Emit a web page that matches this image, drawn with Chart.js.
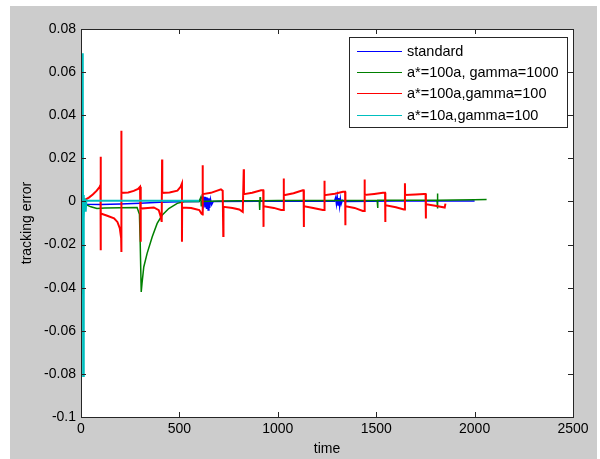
<!DOCTYPE html>
<html>
<head>
<meta charset="utf-8">
<script src="https://cdn.jsdelivr.net/npm/chart.js@4"></script>
<style>
  html, body { margin: 0; padding: 0; background: #fff; }
</style>
</head>
<body>
<canvas id="myChart" width="600" height="459"></canvas>
<script>
// series names (legend order)
const seriesNames = ['standard', 'a*=100a, gamma=1000', 'a*=100a,gamma=100', 'a*=10a,gamma=100'];

// axis ticks
const xTickValues = [0, 500, 1000, 1500, 2000, 2500];
const xTickLabels = ['0', '500', '1000', '1500', '2000', '2500'];
const yTickValues = [-0.1, -0.08, -0.06, -0.04, -0.02, 0, 0.02, 0.04, 0.06, 0.08];
const yTickLabels = ['-0.1', '-0.08', '-0.06', '-0.04', '-0.02', '0', '0.02', '0.04', '0.06', '0.08'];

// standard (blue)
const blueT = [0, 6, 9, 18, 30, 100, 200, 300, 400, 500, 600, 618, 622, 626, 630, 634, 638, 642, 646, 650, 654, 658, 664, 672,
  900, 1288, 1294, 1298, 1302, 1306, 1310, 1314, 1318, 1322, 1328, 1339, 1600, 1900, 2000];
const blueY = [0, 0.0045, 0.003, -0.0009, -0.0013, -0.0014, -0.0012, -0.0008, -0.0004, -0.0001, 0, 0.0025, -0.0012, 0.0022, -0.0028, 0.002, -0.0035, 0.0018, -0.004, 0.0015, -0.003, 0.001, -0.0015, 0,
  0.0001, 0.0001, 0.0018, -0.0012, 0.002, -0.0017, 0.0016, -0.0022, 0.0012, -0.0012, 0.0005, 0, 0.0002, 0.0002, 0.0002];

// a*=100a, gamma=1000 (green)
const greenT = [0, 4, 5, 6, 8, 14, 20, 31, 50, 81, 120, 200, 285, 297, 301, 306, 310, 319, 336, 362, 387, 412, 446, 489, 531,
  600, 609, 611, 613, 700, 800, 906, 908, 910, 912, 1000, 1200, 1505, 1507, 1509, 1700, 1809, 1810, 1812, 1814, 1900, 2000, 2061];
const greenY = [0, 0.068, -0.043, 0.0107, 0, -0.0005, -0.0012, -0.0017, -0.0025, -0.0033, -0.003, -0.0029, -0.0028, -0.006, -0.02, -0.042, -0.038, -0.0304, -0.0241, -0.0164, -0.0102, -0.0064, -0.0033, -0.0009, 0.0001,
  0, 0.002, -0.002, 0, 0.0002, 0.0003, 0.0003, -0.004, 0.002, 0.0003, 0.0004, 0.0004, 0.0004, -0.003, 0.0005, 0.0005, 0.0005, 0.0037, -0.0033, 0.0006, 0.0007, 0.0008, 0.0009];

// a*=100a,gamma=100 (red)
const redT = [0, 15, 40, 60, 80, 95, 99,
  100, 100, 101, 130, 168, 185, 197, 204,
  205, 205, 206, 240, 268, 290, 300,
  303, 304, 340, 370, 395, 405, 410,
  412, 413, 450, 490, 506,
  513, 513, 514, 560, 601, 612,
  618, 618, 619, 660, 711, 720,
  723, 724, 770, 804, 822,
  827, 828, 870, 915, 926,
  927, 928, 980, 1017, 1029,
  1030, 1031, 1080, 1127, 1131,
  1132, 1133, 1180, 1229, 1236,
  1237, 1238, 1290, 1331, 1342,
  1343, 1344, 1390, 1432, 1440,
  1441, 1442, 1490, 1534, 1545,
  1546, 1547, 1600, 1641, 1645,
  1646, 1647, 1700, 1743, 1751,
  1752, 1753, 1800, 1848, 1852];
const redY = [0, 0.0005, 0.0018, 0.0032, 0.005, 0.0068, 0.0076,
  0.0207, -0.0226, -0.0056, -0.0065, -0.0078, -0.0095, -0.0124, -0.017,
  -0.0235, 0.0328, 0.004, 0.0042, 0.0049, 0.0058, 0.0068,
  -0.0187, -0.0033, -0.003, -0.0028, -0.004, -0.0071, -0.0095,
  0.0195, 0.004, 0.0042, 0.005, 0.0068,
  0.0084, -0.0187, -0.0028, -0.003, -0.004, -0.0056,
  -0.006, 0.0168, 0.0034, 0.004, 0.0056, 0.005,
  -0.016, -0.0025, -0.003, -0.0037, -0.0048,
  0.0149, 0.0034, 0.004, 0.0052, 0.0052,
  -0.0118, -0.0022, -0.003, -0.004, -0.004,
  0.0107, 0.0029, 0.0038, 0.0052, 0.0052,
  -0.0118, -0.0022, -0.003, -0.004, -0.004,
  0.0096, 0.0029, 0.0036, 0.0045, 0.0045,
  -0.011, -0.0022, -0.003, -0.0044, -0.0044,
  0.0102, 0.003, 0.0035, 0.004, 0.004,
  -0.0095, -0.0017, -0.0027, -0.0037, -0.0037,
  0.0084, 0.003, 0.0032, 0.0034, 0.0034,
  -0.0079, -0.0013, -0.002, -0.0028, -0.001];

// a*=10a,gamma=100 (cyan)
const cyanT = [0, 9, 11, 13, 15, 17, 19, 22, 24, 27, 35, 100, 300, 600];
const cyanY = [0, 0.0687, -0.081, 0.003, -0.0078, 0.0015, -0.002, 0.001, -0.0048, 0.0005, 0.0003, 0.0003, 0.0003, 0.0003];

function pts(ts, ys) {
  return ts.map((t, i) => ({ x: t, y: ys[i] }));
}

Chart.defaults.font.family = '"Liberation Sans", Arial, sans-serif';
Chart.defaults.font.size = 14;
Chart.defaults.color = '#000';

// gray figure background + white axes
const bgPlugin = {
  id: 'bg',
  beforeDraw(chart) {
    const ctx = chart.ctx, a = chart.chartArea;
    ctx.save();
    ctx.fillStyle = '#fff';
    ctx.fillRect(0, 0, chart.width, chart.height);
    ctx.fillStyle = '#cccccc';
    ctx.fillRect(10, 6, 587, 453);
    ctx.fillStyle = '#fff';
    ctx.fillRect(a.left, a.top, a.right - a.left, a.bottom - a.top);
    ctx.restore();
  }
};

// box, inward ticks and legend like matlab
const boxPlugin = {
  id: 'box',
  afterDraw(chart) {
    const ctx = chart.ctx, a = chart.chartArea;
    const xs = chart.scales.x, ys = chart.scales.y;
    ctx.save();
    ctx.strokeStyle = '#262626';
    ctx.lineWidth = 1;
    ctx.beginPath();
    xTickValues.forEach(v => {
      const px = Math.round(xs.getPixelForValue(v)) + 0.5;
      ctx.moveTo(px, a.bottom); ctx.lineTo(px, a.bottom - 5);
      ctx.moveTo(px, a.top); ctx.lineTo(px, a.top + 5);
    });
    yTickValues.forEach(v => {
      const py = Math.round(ys.getPixelForValue(v)) + 0.5;
      ctx.moveTo(a.left, py); ctx.lineTo(a.left + 5, py);
      ctx.moveTo(a.right, py); ctx.lineTo(a.right - 5, py);
    });
    ctx.stroke();
    ctx.strokeRect(Math.round(a.left) + 0.5, Math.round(a.top) + 0.5, Math.round(a.right - a.left), Math.round(a.bottom - a.top));

    // legend
    const lx = a.right - 224, ly = a.top + 8, lw = 218, lh = 90;
    ctx.fillStyle = '#fff';
    ctx.fillRect(lx, ly, lw, lh);
    ctx.strokeRect(lx + 0.5, ly + 0.5, lw, lh);
    ctx.font = '14.5px "Liberation Sans", Arial, sans-serif';
    ctx.textBaseline = 'middle';
    ctx.textAlign = 'left';
    chart.data.datasets.forEach((ds, i) => {
      const y = Math.round(ly + 13.5 + i * 21.4) + 0.5;
      ctx.strokeStyle = ds.borderColor;
      ctx.lineWidth = 1;
      ctx.beginPath();
      ctx.moveTo(lx + 8, y);
      ctx.lineTo(lx + 53, y);
      ctx.stroke();
      ctx.fillStyle = '#000';
      ctx.fillText(ds.label, lx + 58, y);
    });
    ctx.restore();
  }
};

const ctx = document.getElementById('myChart');
const myChart = new Chart(ctx, {
  type: 'line',
  data: {
    datasets: [{
      label: seriesNames[0],
      data: pts(blueT, blueY),
      borderColor: 'rgb(0, 0, 255)',
      borderWidth: 1.5,
      order: 4
    },
    {
      label: seriesNames[1],
      data: pts(greenT, greenY),
      borderColor: 'rgb(0, 128, 0)',
      borderWidth: 1.5,
      order: 3
    },
    {
      label: seriesNames[2],
      data: pts(redT, redY),
      borderColor: 'rgb(255, 0, 0)',
      borderWidth: 2,
      order: 2
    },
    {
      label: seriesNames[3],
      data: pts(cyanT, cyanY),
      borderColor: 'rgb(0, 191, 191)',
      borderWidth: 2,
      order: 1
    }]
  },
  options: {
    responsive: false,
    animation: false,
    events: [],
    elements: { point: { radius: 0 }, line: { tension: 0 } },
    layout: { padding: { top: 29, right: 27, left: 0, bottom: 0 } },
    plugins: { legend: { display: false }, tooltip: { enabled: false } },
    scales: {
      x: {
        type: 'linear',
        min: 0,
        max: 2500,
        afterFit: s => { s.height = 42; },
        afterBuildTicks: s => { s.ticks = xTickValues.map(v => ({ value: v })); },
        grid: { display: false, drawTicks: false },
        border: { display: false },
        ticks: { padding: 4, maxRotation: 0, callback: (v, i) => xTickLabels[i] },
        title: { display: true, text: 'time', padding: { top: 0, bottom: 1 } }
      },
      y: {
        type: 'linear',
        min: -0.1,
        max: 0.08,
        afterFit: s => { s.width = 81; },
        afterBuildTicks: s => { s.ticks = yTickValues.map(v => ({ value: v })); },
        grid: { display: false, drawTicks: false },
        border: { display: false },
        ticks: { padding: 5, callback: (v, i) => yTickLabels[i] },
        title: { display: true, text: 'tracking error', padding: { top: 19, bottom: 0 } }
      }
    }
  },
  plugins: [bgPlugin, boxPlugin]
});
</script>
</body>
</html>
